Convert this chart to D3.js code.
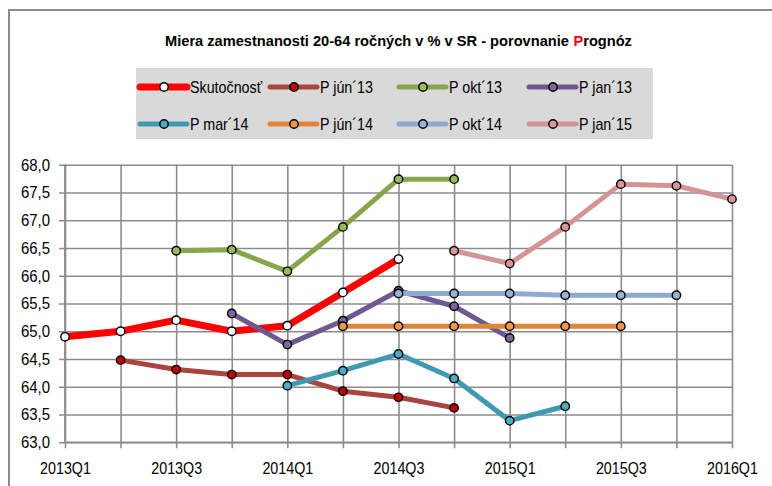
<!DOCTYPE html>
<html>
<head>
<meta charset="utf-8">
<script src="https://cdn.jsdelivr.net/npm/d3@7"></script>
<style>
  html, body { margin: 0; padding: 0; background: #fff; }
  svg { display: block; }
  text { font-family: "Liberation Sans Narrow", "Arial Narrow", "Liberation Sans", Arial, sans-serif; }
</style>
</head>
<body>
<svg id="chart" width="772" height="486"></svg>
<script>
// ---------- DATA ----------
const categories = ["2013Q1","2013Q2","2013Q3","2013Q4","2014Q1","2014Q2","2014Q3","2014Q4","2015Q1","2015Q2","2015Q3","2015Q4","2016Q1"];
const xTickLabels = ["2013Q1","2013Q3","2014Q1","2014Q3","2015Q1","2015Q3","2016Q1"];
const yTicks = [63.0, 63.5, 64.0, 64.5, 65.0, 65.5, 66.0, 66.5, 67.0, 67.5, 68.0];

const skutocnost = [64.9, 65.0, 65.2, 65.0, 65.1, 65.7, 66.3, null, null, null, null, null, null];
const pJun13     = [null, 64.48, 64.31, 64.22, 64.22, 63.92, 63.81, 63.62, null, null, null, null, null];
const pOkt13     = [null, null, 66.45, 66.47, 66.08, 66.88, 67.74, 67.74, null, null, null, null, null];
const pJan13     = [null, null, null, 65.32, 64.76, 65.19, 65.73, 65.45, 64.88, null, null, null, null];
const pMar14     = [null, null, null, null, 64.02, 64.29, 64.59, 64.15, 63.39, 63.65, null, null, null];
const pJun14     = [null, null, null, null, null, 65.09, 65.09, 65.09, 65.09, 65.09, 65.09, null, null];
const pOkt14     = [null, null, null, null, null, null, 65.68, 65.68, 65.68, 65.65, 65.65, 65.65, null];
const pJan15     = [null, null, null, null, null, null, null, 66.45, 66.22, 66.88, 67.65, 67.62, 67.38];

const seriesNames = ["Skutočnosť", "P jún´13", "P okt´13", "P jan´13", "P mar´14", "P jún´14", "P okt´14", "P jan´15"];
const seriesValues = [skutocnost, pJun13, pOkt13, pJan13, pMar14, pJun14, pOkt14, pJan15];
const lineColors   = ["#ff0000", "#a9443f", "#87a64b", "#6f5891", "#3f9ab1", "#e0843a", "#8eaad1", "#d59494"];
const markerFills  = ["#ffffff", "#c00000", "#9bbb59", "#8064a2", "#4bacc6", "#f79646", "#95b3d7", "#d99694"];
const lineWidths   = [7, 5, 5, 5, 5, 5, 5, 5];

const titleParts  = ["Miera zamestnanosti 20-64 ročných v % v SR - porovnanie ", "P", "rognóz"];
const titleColors = ["#000000", "#ff0000", "#000000"];

// ---------- LAYOUT ----------
const svg = d3.select("#chart");
const plot = { left: 65, right: 732, top: 164.7, bottom: 442.3 };
const gridColor = "#8c8c8c";
const NARROW = 0.84; // emulate a condensed font

function condense(sel, factor) {
  sel.each(function () {
    const len = this.getComputedTextLength();
    if (len > 0) {
      d3.select(this).attr("textLength", (len * factor).toFixed(2))
        .attr("lengthAdjust", "spacingAndGlyphs");
    }
  });
}

// outer frame
svg.append("rect")
  .attr("x", 9).attr("y", 10).attr("width", 900).attr("height", 700)
  .attr("fill", "none").attr("stroke", gridColor).attr("stroke-width", 2);

// title: separate runs side by side, font size fitted to the reference width
{
  const tg = svg.append("g");
  const baseFs = 16;
  const runs = titleParts.map((t, i) => tg.append("text")
    .attr("y", 46).attr("font-size", baseFs).attr("font-weight", "bold")
    .attr("fill", titleColors[i]).style("white-space", "pre").text(t.trim()));
  const space = (() => {
    const s = tg.append("text").attr("font-size", baseFs).attr("font-weight", "bold").text("a a");
    const a = tg.append("text").attr("font-size", baseFs).attr("font-weight", "bold").text("aa");
    const w = s.node().getComputedTextLength() - a.node().getComputedTextLength();
    s.remove(); a.remove(); return w;
  })();
  const widths = runs.map(r => r.node().getComputedTextLength());
  const total = d3.sum(widths) + space;
  const targetW = 467, cxT = 398.5;
  const f = targetW / total;
  runs.forEach(r => r.attr("font-size", (baseFs * f).toFixed(2)));
  let cur = cxT - targetW / 2;
  runs.forEach((r, i) => {
    r.attr("x", cur.toFixed(2));
    cur += widths[i] * f + (i === 0 ? space * f : 0);
  });
}

// scales
const x = d3.scalePoint().domain(categories).range([plot.left, plot.right]);
const y = d3.scaleLinear().domain([63, 68]).range([plot.bottom, plot.top]);

// gridlines (horizontal)
const yAxis = d3.axisLeft(y).tickValues(yTicks)
  .tickSize(-(plot.right - plot.left)).tickSizeOuter(0)
  .tickFormat(d => d3.format(".1f")(d).replace(".", ","));
const gy = svg.append("g").attr("transform", `translate(${plot.left},0)`).call(yAxis);
gy.select(".domain").remove();
gy.selectAll(".tick line").attr("stroke", gridColor).attr("stroke-width", 1.6)
  .attr("x1", -6);
gy.selectAll(".tick text").attr("x", -15).attr("font-size", 17).attr("fill", "#000")
  .attr("font-family", "'Liberation Sans Narrow', 'Arial Narrow', 'Liberation Sans', sans-serif");
condense(gy.selectAll(".tick text"), 0.88);

// gridlines (vertical)
const xAxis = d3.axisBottom(x).tickSize(-(plot.bottom - plot.top)).tickSizeOuter(0)
  .tickFormat(d => xTickLabels.includes(d) ? d : "");
const gx = svg.append("g").attr("transform", `translate(0,${plot.bottom})`).call(xAxis);
gx.select(".domain").remove();
gx.selectAll(".tick line").attr("stroke", gridColor).attr("stroke-width", 1.6)
  .attr("y1", 6);
gx.selectAll(".tick text").attr("y", 20).attr("font-size", 17).attr("fill", "#000")
  .attr("font-family", "'Liberation Sans Narrow', 'Arial Narrow', 'Liberation Sans', sans-serif");
condense(gx.selectAll(".tick text"), NARROW);

// axis lines
svg.append("line").attr("x1", plot.left).attr("x2", plot.left)
  .attr("y1", plot.top).attr("y2", plot.bottom)
  .attr("stroke", gridColor).attr("stroke-width", 1.8);
svg.append("line").attr("x1", plot.left).attr("x2", plot.right)
  .attr("y1", plot.bottom).attr("y2", plot.bottom)
  .attr("stroke", gridColor).attr("stroke-width", 1.8);

// series
const line = d3.line()
  .defined(d => d.v !== null)
  .x(d => x(d.c)).y(d => y(d.v));

seriesValues.forEach((vals, i) => {
  const pts = vals.map((v, j) => ({ c: categories[j], v }));
  const g = svg.append("g");
  g.append("path").datum(pts)
    .attr("d", line)
    .attr("fill", "none")
    .attr("stroke", lineColors[i])
    .attr("stroke-width", lineWidths[i])
    .attr("stroke-linejoin", "round");
  g.selectAll("circle").data(pts.filter(d => d.v !== null)).enter().append("circle")
    .attr("cx", d => x(d.c)).attr("cy", d => y(d.v))
    .attr("r", 4.2)
    .attr("fill", markerFills[i])
    .attr("stroke", "#000").attr("stroke-width", 1.4);
});

// legend
const legend = svg.append("g");
legend.append("rect").attr("x", 136).attr("y", 68).attr("width", 517).attr("height", 71)
  .attr("fill", "#d9d9d9");
const colX = [140, 270, 399, 529];
const rowY = [87, 124];
seriesNames.forEach((name, i) => {
  const cx = colX[i % 4], cy = rowY[Math.floor(i / 4)];
  const lg = legend.append("g");
  lg.append("line").attr("x1", cx).attr("x2", cx + 47).attr("y1", cy).attr("y2", cy)
    .attr("stroke", lineColors[i]).attr("stroke-width", lineWidths[i])
    .attr("stroke-linecap", "round");
  lg.append("circle").attr("cx", cx + 24).attr("cy", cy).attr("r", 4.2)
    .attr("fill", markerFills[i]).attr("stroke", "#000").attr("stroke-width", 1.4);
  lg.append("text").attr("x", cx + 50).attr("y", cy + 6)
    .attr("font-size", 17).attr("fill", "#000").text(name);
});
condense(legend.selectAll("text"), NARROW);
</script>
</body>
</html>
